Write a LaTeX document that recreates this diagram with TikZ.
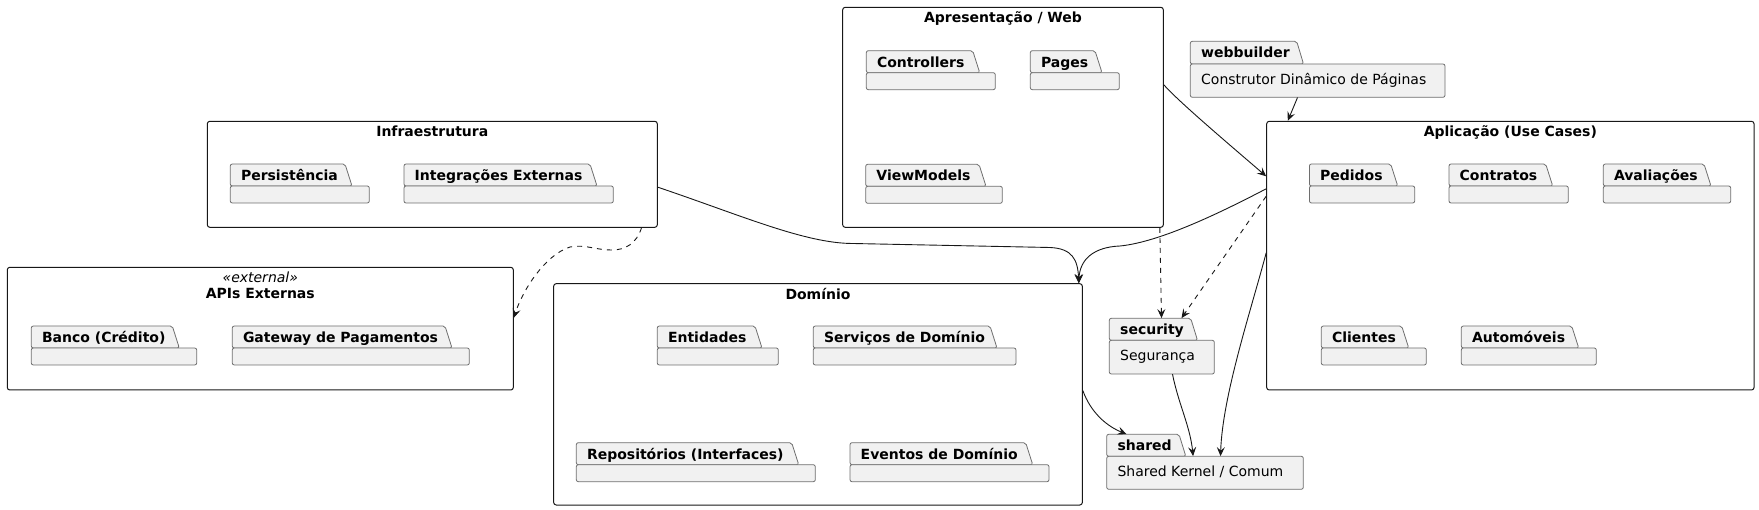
\documentclass[tikz,border=0pt]{standalone}
\usepackage{fontspec}
\setmainfont{DejaVu Sans}
\usetikzlibrary{arrows.meta,calc,fit}
\definecolor{ink}{HTML}{181818}
\definecolor{pkgfill}{HTML}{F1F1F1}
\definecolor{pkgline}{HTML}{6E6E6E}

\begin{document}
\begin{tikzpicture}[y={-1pt}, x={1pt},
    layerbox/.style={draw=ink, line width=1pt, rounded corners=2.5pt, inner sep=0pt},
    pkg/.style={draw=pkgline, fill=pkgfill, line width=0.8pt, rounded corners=2pt},
    frametitle/.style={font=\fontsize{14}{16}\selectfont\bfseries, anchor=base, inner sep=0pt},
    ptitle/.style={frametitle, anchor=base west},
    ptext/.style={font=\fontsize{14}{16}\selectfont, anchor=base west, inner sep=0pt},
    dep/.style={draw=ink, line width=0.9pt, -{Stealth[length=9pt,width=8pt,inset=3.5pt]}},
    uses/.style={dep, dash pattern=on 5pt off 5pt}]
    \useasboundingbox (0,0) rectangle (1759,510);

    % layers
    \node[layerbox, fit={(842.7,7.3) (1163.3,227.3)}] (web) {};
    \node[layerbox, fit={(207.3,121.3) (657.3,227.3)}] (infra) {};
    \node[layerbox, fit={(7.3,267.3) (513.3,390)}] (apis) {};
    \node[layerbox, fit={(553.7,283.7) (1082.3,505)}] (dom) {};
    \node[layerbox, fit={(1266.7,121.3) (1754,390)}] (apl) {};
    \node[frametitle] (webtitle) at ($(web.north)+(0,16)$) {Apresentação / Web};
    \node[frametitle] (infratitle) at ($(infra.north)+(0,16)$) {Infraestrutura};
    \node[frametitle, font=\fontsize{14}{16}\selectfont\itshape] (apisstereo) at ($(apis.north)+(0,16)$) {«external»};
    \node[frametitle] (apistitle) at ($(apis.north)+(0,32)$) {APIs Externas};
    \node[frametitle] (domtitle) at ($(dom.north)+(0,16)$) {Domínio};
    \node[frametitle] (apltitle) at ($(apl.north)+(0,16)$) {Aplicação (Use Cases)};

    % empty packages
    \foreach \nm/\px/\py/\tx/\bx/\txt in {
        ctrl/866.3/50.7/972.7/995.3/Controllers,
        pages/1030.3/50.7/1095/1119.3/Pages,
        vm/865.7/164.3/979/1002.3/ViewModels,
        pers/230.3/164/345/369.3/Persistência,
        integ/404/164/590/613.3/Integrações Externas,
        banco/31.3/326/172.3/196.7/Banco (Crédito),
        gw/232.3/326/445/469.3/Gateway de Pagamentos,
        ent/657.3/326/755/778.3/Entidades,
        serv/813.3/326/990/1016/Serviços de Domínio,
        repo/576.3/442.7/791.7/815.3/Repositórios (Interfaces),
        evt/850/442.7/1025.7/1049/Eventos de Domínio,
        ped/1309.4/164/1390.7/1414.7/Pedidos,
        con/1449/164/1545.7/1568.3/Contratos,
        ava/1603.3/164/1704/1730.7/Avaliações,
        cli/1321.3/326/1401.7/1426.3/Clientes,
        auto/1461.3/326/1571.7/1596.3/Automóveis} {
        \draw[pkg] (\px,\py+22) -- (\px,\py) -- (\tx,\py) -- (\tx+7,\py+22) -- cycle;
        \draw[pkg] (\px,\py+22) rectangle (\bx,\py+39);
        \node[ptitle] (\nm) at (\px+10.5,\py+16.5) {\txt};
    }

    % packages with text
    \draw[pkg] (1190.3,64) -- (1190.3,41.3) -- (1296.7,41.3) -- (1303.5,64) -- cycle;
    \draw[pkg] (1190.3,64) rectangle (1445,97.3);
    \node[ptitle] (wbname) at (1201,57.8) {webbuilder};
    \node[ptext] (wbtext) at (1201,84.5) {Construtor Dinâmico de Páginas};
    \node[fit={(1190.3,41.3) (1445,97.3)}, inner sep=0pt] (wb) {};

    \draw[pkg] (1109.3,340.3) -- (1109.3,318.3) -- (1190.7,318.3) -- (1197.5,340.3) -- cycle;
    \draw[pkg] (1109.3,340.3) rectangle (1214.3,374);
    \node[ptitle] (secname) at (1120,334.8) {security};
    \node[ptext] (sectext) at (1120,361) {Segurança};
    \node[fit={(1109.3,318.3) (1214.3,374)}, inner sep=0pt] (sec) {};

    \draw[pkg] (1106.7,456.3) -- (1106.7,434.3) -- (1179,434.3) -- (1185.8,456.3) -- cycle;
    \draw[pkg] (1106.7,456.3) rectangle (1303.3,489.3);
    \node[ptitle] (shname) at (1117.3,450.8) {shared};
    \node[ptext] (shtext) at (1117.3,476.7) {Shared Kernel / Comum};
    \node[fit={(1106.7,434.3) (1303.3,489.3)}, inner sep=0pt] (sh) {};

    % dependencies
    \draw[dep] ($(web.north east)+(0,78)$) .. controls +(15,17) and +(-36,-31) .. ($(apl.north west)+(0,55.5)$);
    \draw[dep] ($(wb.south west)+(107.4,0)$) -- ($(apl.north west)+(21.6,0)$);
    \draw[dep] ($(infra.north east)+(0,66.4)$) .. controls +(83,28) and +(-48,0) .. (853,243.5) -- (1050,247.5) .. controls +(22,1) and +(-1,-24) .. ($(dom.north east)+(-4,0)$);
    \draw[dep] ($(apl.north west)+(0,68)$) .. controls +(-46,24) and +(40,-4) .. (1120,246) .. controls +(-26,1) and +(1,-24) .. ($(dom.north east)+(-4,0)$);
    \draw[dep] ($(dom.south east)+(0,-115)$) .. controls +(8,22) and +(-20,-8) .. ($(sh.north west)+(20,0)$);
    \draw[dep] ($(sec.south west)+(63.4,0)$) .. controls +(6,30) and +(-3,-30) .. ($(sh.north west)+(86.6,22)$);
    \draw[dep] ($(apl.north west)+(0,132)$) .. controls +(-16,60) and +(2,-60) .. ($(sh.north west)+(114,22)$);
    \draw[uses] ($(apl.north west)+(0,75.4)$) -- ($(sec.north west)+(72.4,0)$);
    \draw[uses] ($(web.south east)+(-4,0)$) -- ($(sec.north west)+(52.4,0)$);
    \draw[uses] ($(infra.south east)+(-16.3,0)$) .. controls +(-5,16) and +(13,0) .. (612,250) .. controls +(-17,0) and +(15,-3) .. (570,247) .. controls +(-25,8) and +(9,-28) .. ($(apis.north east)+(0,51)$);
\end{tikzpicture}
\end{document}
